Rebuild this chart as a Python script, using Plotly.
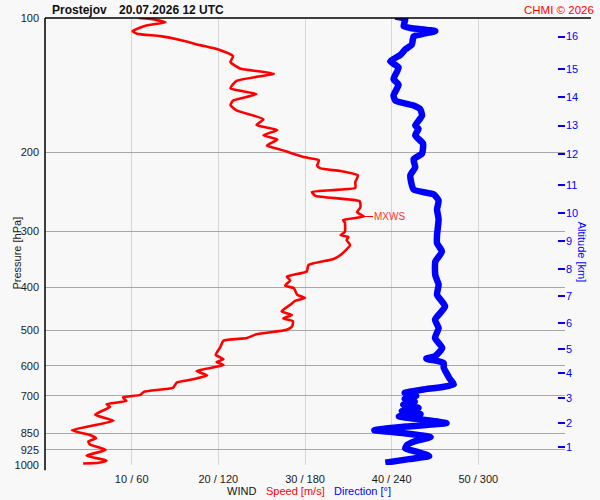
import math
import plotly.graph_objects as go

# wind speed profile [m/s] vs pressure [hPa], surface -> top
speed_p = [992, 988, 977, 953, 925, 900, 886, 871, 856, 836, 796, 772, 741, 731, 719, 706,
           697, 686, 671, 654, 643, 630, 616, 598, 588, 580, 567, 546, 527, 520, 510, 498,
           490, 477, 470, 462, 453, 438, 429, 423, 416, 402, 397, 386, 379, 369, 357, 346,
           339, 322, 314, 309, 306, 301, 287, 283, 278, 272, 265, 257, 250, 245, 240, 233,
           225, 220, 217, 214, 208, 205, 199, 196, 193, 187, 183, 178, 173.5, 168.5, 161,
           156.6, 153, 148, 143.6, 138.3, 133.2, 129.7, 125.5, 121.7, 117.6, 115, 112, 109.8,
           108.4, 107, 104, 102.2, 100.4, 100]
speed = [4.4, 6.2, 7.1, 4.8, 7.0, 5.2, 5.0, 5.9, 5.1, 3.1, 7.9, 5.8, 7.5, 7.1, 9.4, 9.0,
         11.0, 11.4, 14.8, 15.2, 17.1, 18.7, 17.5, 20.6, 19.8, 20.6, 19.7, 20.2, 20.6, 23.3, 24.4, 27.9,
         28.5, 28.6, 27.5, 28.5, 27.3, 28.3, 28.9, 30.0, 29.1, 28.7, 27.7, 28.3, 27.9, 30.2, 30.4, 33.3,
         34.1, 35.2, 34.8, 35.0, 34.1, 34.6, 34.6, 34.4, 36.8, 36.0, 36.4, 36.3, 31.2, 30.8, 35.8, 35.8,
         36.1, 34.1, 31.8, 31.4, 31.6, 30.0, 27.9, 26.8, 25.6, 26.8, 25.2, 26.8, 24.4, 25.2, 22.1,
         21.4, 21.7, 24.4, 21.4, 22.1, 26.4, 22.5, 21.4, 21.7, 20.0, 17.9, 15.6, 13.3,
         10.6, 10.1, 11.7, 13.9, 12.0, 10.8]

# wind direction profile [deg] vs pressure [hPa]
dir_p = [988, 970, 955, 935, 918, 903, 885, 866, 850, 836, 820, 806, 792, 779, 769, 757,
         745, 733, 722, 711, 701, 690, 678, 660, 640, 623, 605, 591, 578, 571, 547, 520,
         494, 473, 442, 416, 395, 376, 351, 333, 319, 306, 282, 268, 256, 248, 242, 225,
         216, 207, 201, 191, 183, 177, 174, 165.5, 160, 157, 153, 149, 141, 137, 129,
         125, 121, 117.6, 114.6, 110, 108.4, 107, 105.3, 104.3, 100.5, 99.2]
direction = [235.6, 252, 266, 258, 249.4, 250.6, 256, 267, 250, 228, 250, 278, 262, 245, 260, 247,
             258.6, 248, 256, 249, 257, 249, 262, 283, 280, 278, 276, 276, 264, 270, 275, 270,
             272.5, 270, 277, 271.4, 272.5, 270.2, 270.2, 274.8, 271.4, 271.4, 272.5, 271.4, 272.5, 269, 255.2, 252.9,
             256.3, 255.2, 261, 261.7, 256.3, 258.6, 256.3, 261, 259.8, 255.2, 242.5, 241.3, 244.8, 241.3, 244.8,
             239, 246, 249.4, 254, 255.2, 262.1, 270.2, 252.9, 248.3, 249.4, 242.5]

pressure_ticks = [100, 200, 300, 400, 500, 600, 700, 850, 925, 1000]
altitude_km = [1, 2, 3, 4, 5, 6, 7, 8, 9, 10, 11, 12, 13, 14, 15, 16]
altitude_hpa = [910, 806, 709, 624, 551, 481, 418, 364, 316, 273, 236, 202, 174, 150, 130, 110]
speed_ticks = [10, 20, 30, 40, 50, 60]
speed_labels = ['10 / 60', '20 / 120', '30 / 180', '40 / 240', '50 / 300', '']

FONT = 'Liberation Sans, Arial, sans-serif'
TXT = '#1a1a1a'

i_max = speed.index(max(speed))
mx_speed, mx_p = speed[i_max], speed_p[i_max]

fig = go.Figure()
fig.add_trace(go.Scatter(x=speed, y=speed_p, mode='lines',
                         line=dict(color='#ff0000', width=2.6, shape='spline', smoothing=0.5),
                         hoverinfo='skip'))
fig.add_trace(go.Scatter(x=direction, y=dir_p, mode='lines', xaxis='x2', yaxis='y2',
                         line=dict(color='#0000ff', width=6.5, shape='spline', smoothing=0.5),
                         hoverinfo='skip'))

fig.update_layout(
    width=600, height=500,
    margin=dict(l=45, r=35, t=15, b=35),
    paper_bgcolor='#f8f8f8', plot_bgcolor='#f8f8f8',
    showlegend=False,
    font=dict(family=FONT, size=11, color=TXT),
    xaxis=dict(range=[0, 60], tickvals=speed_ticks, ticktext=speed_labels,
               showgrid=True, gridcolor='#d6d6d6', gridwidth=1, zeroline=False,
               showline=False, ticks='', ticklabelstandoff=6,
               tickfont=dict(size=11, color=TXT)),
    xaxis2=dict(range=[0, 360], overlaying='x', visible=False),
    yaxis=dict(type='log', range=[3, 2], tickvals=pressure_ticks,
               ticktext=[str(v) for v in pressure_ticks],
               showgrid=True, gridcolor='#a8a8a8', gridwidth=1, zeroline=False,
               showline=False, ticks='', ticklabelstandoff=5,
               tickfont=dict(size=11, color=TXT)),
    yaxis2=dict(type='log', range=[3, 2], overlaying='y', side='right',
                tickvals=altitude_hpa, ticktext=[str(v) for v in altitude_km],
                showgrid=False, zeroline=False, showline=False,
                ticks='inside', ticklen=7, tickwidth=1.5, tickcolor='#0000ff',
                tickfont=dict(size=11, color='#0000ff')),
)

lmx = math.log10(mx_p)
fig.add_shape(type='line', xref='paper', yref='paper', x0=0, x1=1.05, y0=1, y1=1,
              line=dict(color='black', width=1.5))
fig.add_shape(type='line', xref='paper', yref='paper', x0=0, x1=0, y0=-0.012, y1=1,
              line=dict(color='black', width=1.5))
fig.add_shape(type='line', xref='paper', yref='y', x0=0, x1=0.021, y0=lmx, y1=lmx,
              line=dict(color='#ff0000', width=1.3))
fig.add_shape(type='line', xref='paper', yref='y', x0=0.98, x1=1.004, y0=lmx, y1=lmx,
              line=dict(color='#ff0000', width=1.3))

fig.add_annotation(x=mx_speed, y=lmx, xref='x', yref='y', text='MXWS',
                   showarrow=True, arrowhead=0, arrowwidth=1.2, arrowcolor='#ff0000',
                   ax=26, ay=0, font=dict(size=10, color='#ff3030'))

ann = [
    dict(x=5 / 520, y=1.018, text='<b>Prostejov</b>', xanchor='left', font=dict(size=12, color='#111')),
    dict(x=72 / 520, y=1.018, text='<b>20.07.2026 12 UTC</b>', xanchor='left', font=dict(size=12, color='#111')),
    dict(x=1.06, y=1.018, text='CHMI © 2026', xanchor='right', font=dict(size=11.5, color='#ff0000')),
    dict(x=-0.0695, y=0.475, text='Pressure [hPa]', textangle=-90, font=dict(size=11, color=TXT)),
    dict(x=1.048, y=0.475, text='Altitude [km]', textangle=90, font=dict(size=11, color='#0000ff')),
    dict(x=180 / 520, y=-0.058, text='WIND', xanchor='left', font=dict(size=11, color='#111')),
    dict(x=219 / 520, y=-0.058, text='Speed [m/s]', xanchor='left', font=dict(size=11, color='#ff0000')),
    dict(x=287 / 520, y=-0.058, text='Direction [°]', xanchor='left', font=dict(size=11, color='#0000ff')),
]
for a in ann:
    fig.add_annotation(xref='paper', yref='paper', showarrow=False, yanchor='middle', **a)

# the page's default body margin would shift the whole figure by 8px
fig.write_html('out.html', config={'displayModeBar': False},
               post_script="document.body.style.margin='0px';")
